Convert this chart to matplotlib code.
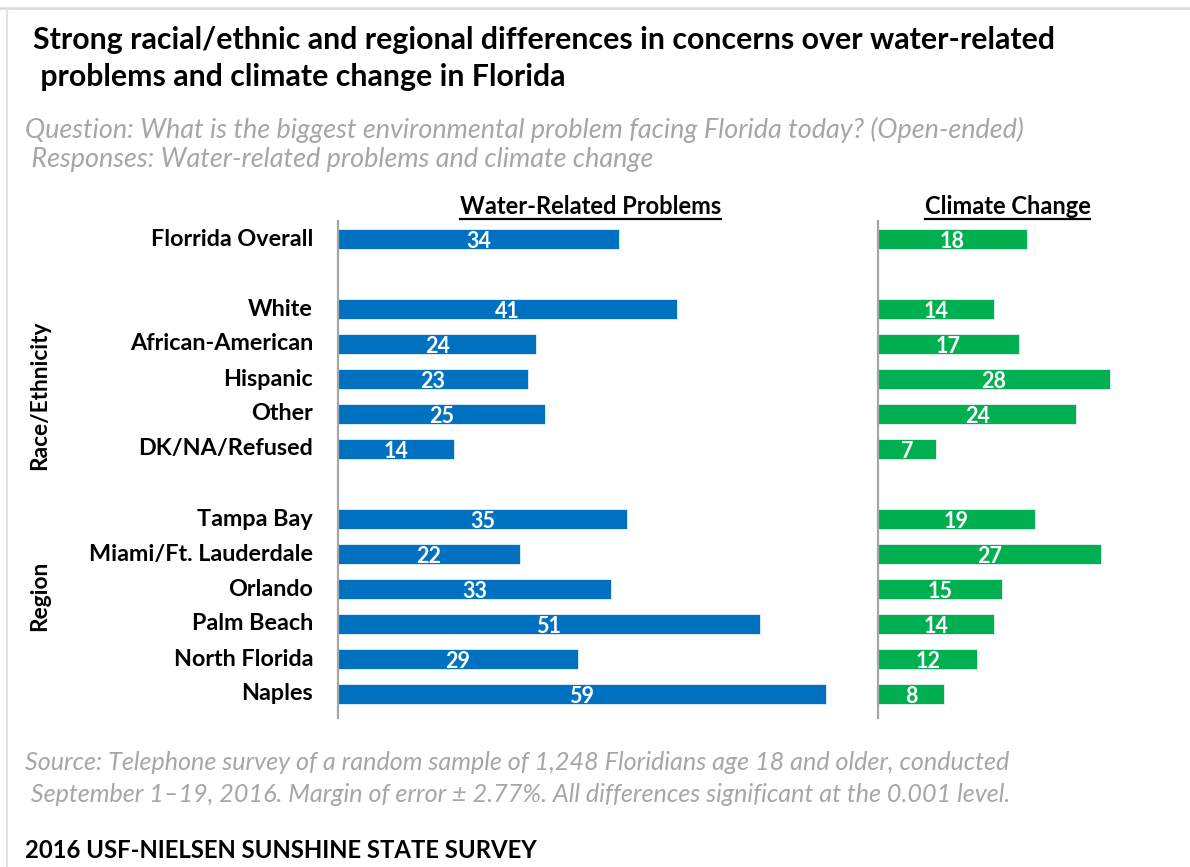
import matplotlib
matplotlib.use("Agg")
import matplotlib.pyplot as plt
from matplotlib.lines import Line2D

plt.rcParams['font.family'] = ['Lato', 'DejaVu Sans']

# ---------------- data ----------------
categories = ["Florrida Overall", "", "White", "African-American", "Hispanic", "Other",
              "DK/NA/Refused", "", "Tampa Bay", "Miami/Ft. Lauderdale", "Orlando",
              "Palm Beach", "North Florida", "Naples"]
water_values = [34, None, 41, 24, 23, 25, 14, None, 35, 22, 33, 51, 29, 59]
climate_values = [18, None, 14, 17, 28, 24, 7, None, 19, 27, 15, 14, 12, 8]
group_labels = ["Race/Ethnicity", "Region"]
panel_titles = ["Water-Related Problems", "Climate Change"]

title_lines = ["Strong racial/ethnic and regional differences in concerns over water-related",
               " problems and climate change in Florida"]
subtitle_lines = ["Question: What is the biggest environmental problem facing Florida today? (Open-ended)",
                  " Responses: Water-related problems and climate change"]
source_lines = ["Source: Telephone survey of a random sample of 1,248 Floridians age 18 and older, conducted",
                " September 1\u201319, 2016. Margin of error \u00b1 2.77%. All differences significant at the 0.001 level."]
footer = "2016 USF-NIELSEN SUNSHINE STATE SURVEY"

BLUE = "#0070C0"
GREEN = "#00B050"
GRAY_TXT = "#A6A6A6"

W, H = 1190, 867
fig = plt.figure(figsize=(W / 100, H / 100), dpi=100)
fig.patch.set_facecolor("white")

# frame lines (top and left)
fig.add_artist(Line2D([0, 1], [1 - 8 / H, 1 - 8 / H], transform=fig.transFigure, color="#D9D9D9", lw=1.8))
fig.add_artist(Line2D([7 / W, 7 / W], [0, 1 - 8 / H], transform=fig.transFigure, color="#E3E3E3", lw=1.5))


def fx(px):
    return px / W


def fy(py):
    return 1 - py / H


ax_top, ax_bot = 221, 718
row0, row_step = 239, 35
y_top_units = (ax_top - row0) / row_step
y_bot_units = (ax_bot - row0) / row_step
px_per_unit = 8.27

left_x0, left_w = 338, 504
right_x0, right_w = 878, 258

axL = fig.add_axes([fx(left_x0), fy(ax_bot), left_w / W, (ax_bot - ax_top) / H])
axR = fig.add_axes([fx(right_x0), fy(ax_bot), right_w / W, (ax_bot - ax_top) / H])

renderer = fig.canvas.get_renderer()


def fit_text(t, target_w):
    bb = t.get_window_extent(renderer=renderer)
    if bb.width > 0:
        t.set_fontsize(t.get_fontsize() * target_w / bb.width)
    return t


ypos = list(range(len(categories)))
for ax, vals, col, x0, w in [(axL, water_values, BLUE, left_x0, left_w),
                             (axR, climate_values, GREEN, right_x0, right_w)]:
    ys = [y for y, v in zip(ypos, vals) if v is not None]
    vs = [v for v in vals if v is not None]
    ax.barh(ys, vs, height=0.58, color=col, edgecolor="#E8F0F8", linewidth=0.6, zorder=2)
    ax.set_xlim(0, w / px_per_unit)
    ax.set_ylim(y_bot_units, y_top_units)
    for s in ["top", "right", "bottom"]:
        ax.spines[s].set_visible(False)
    ax.spines["left"].set_color("#A6A6A6")
    ax.spines["left"].set_linewidth(1.6)
    ax.spines["left"].set_zorder(3)
    ax.set_xticks([])
    ax.set_yticks([])
    ax.set_facecolor("none")
    for y, v in zip(ys, vs):
        ax.text(v / 2, y + 0.08, str(v), ha="center", va="center", color="white",
                fontsize=15.5, fontweight="bold", zorder=4)

# category labels
for y, lab in zip(ypos, categories):
    if lab:
        axL.text(-25 / px_per_unit, y, lab, ha="right", va="center", fontsize=16.8,
                 fontweight="bold", color="black")

# panel headers with underline
fig.canvas.draw()
h1 = fig.text(fx(590.5), fy(207), panel_titles[0], ha="center", va="center", fontsize=14,
              fontweight="bold", color="black")
fit_text(h1, 722 - 459)
h2 = fig.text(fx(1007.5), fy(207), panel_titles[1], ha="center", va="center",
              fontsize=h1.get_fontsize(), fontweight="bold", color="black")
for h in (h1, h2):
    bb = h.get_window_extent(renderer=renderer)
    fig.add_artist(Line2D([bb.x0 / W, bb.x1 / W], [fy(219), fy(219)], transform=fig.transFigure,
                          color="black", lw=1.6))

# group labels
g1 = fig.text(fx(40), fy(395), group_labels[0], rotation=90, ha="center", va="center",
              fontsize=14, fontweight="bold")
bbg = g1.get_window_extent(renderer=renderer)
g1.set_fontsize(14 * 150 / bbg.height)
g2 = fig.text(fx(40), fy(596), group_labels[1], rotation=90, ha="center", va="center",
              fontsize=g1.get_fontsize(), fontweight="bold")

# title
t1 = fig.text(fx(33), fy(40), title_lines[0], ha="left", va="center", fontsize=17,
              fontweight="bold", color="black")
fit_text(t1, 1055 - 33)
t2 = fig.text(fx(33), fy(77), title_lines[1], ha="left", va="center",
              fontsize=t1.get_fontsize(), fontweight="bold", color="black")

# subtitle
s1 = fig.text(fx(25), fy(130), subtitle_lines[0], ha="left", va="center", fontsize=13,
              style="italic", color=GRAY_TXT)
fit_text(s1, 1020 - 25)
s2 = fig.text(fx(25), fy(160), subtitle_lines[1], ha="left", va="center",
              fontsize=s1.get_fontsize(), style="italic", color=GRAY_TXT)

# source
c1 = fig.text(fx(25), fy(762), source_lines[0], ha="left", va="center", fontsize=13,
              style="italic", color=GRAY_TXT)
fit_text(c1, 1007 - 25)
c2 = fig.text(fx(25), fy(795), source_lines[1], ha="left", va="center",
              fontsize=c1.get_fontsize(), style="italic", color=GRAY_TXT)

# footer
f1 = fig.text(fx(25), fy(850), footer, ha="left", va="center", fontsize=14,
              fontweight="bold", color="black")
fit_text(f1, 540 - 25)

fig.savefig("out.png", dpi=100, facecolor="white")
